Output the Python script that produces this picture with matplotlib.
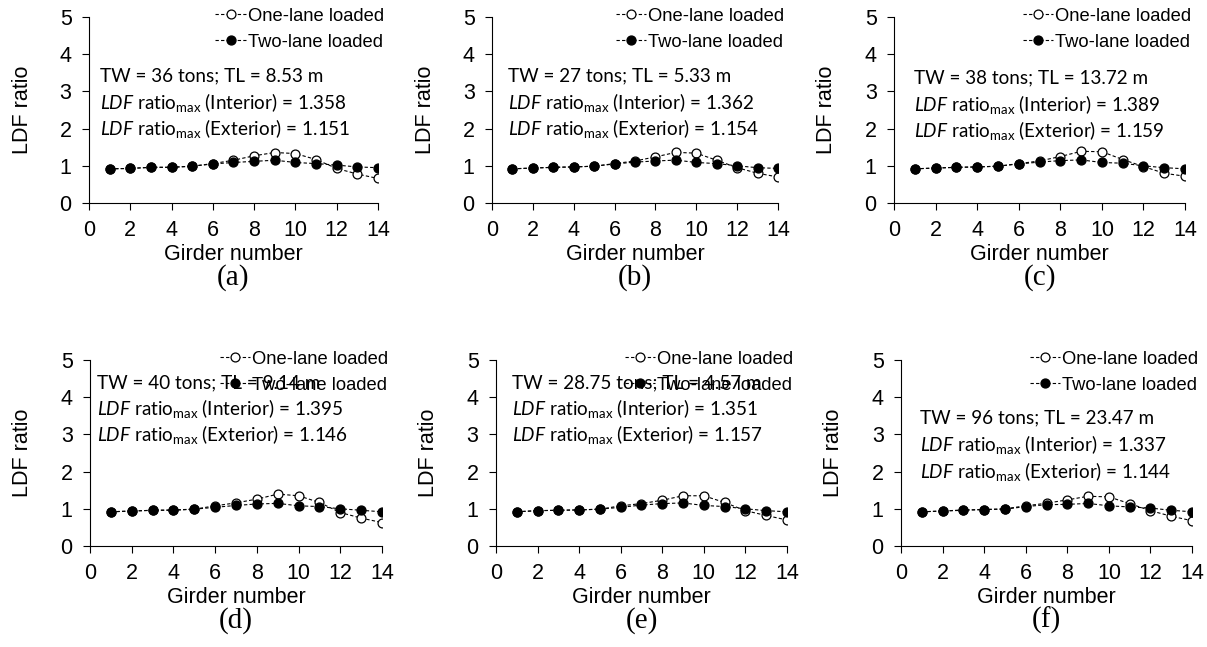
import numpy as np
import matplotlib
matplotlib.use('Agg')
import matplotlib.pyplot as plt

plt.rcParams['font.family'] = ['Liberation Sans', 'DejaVu Sans']
plt.rcParams['mathtext.fontset'] = 'custom'
plt.rcParams['mathtext.rm'] = 'Lato'
plt.rcParams['mathtext.it'] = 'Lato:italic'

# girder numbers and LDF ratios
girders = [1, 2, 3, 4, 5, 6, 7, 8, 9, 10, 11, 12, 13, 14]

one_a = [0.92, 0.93, 0.96, 0.96, 0.99, 1.06, 1.15, 1.27, 1.358, 1.33, 1.17, 0.93, 0.78, 0.66]
two_a = [0.92, 0.93, 0.96, 0.96, 0.99, 1.05, 1.09, 1.12, 1.151, 1.09, 1.06, 1.02, 0.97, 0.95]
one_b = [0.92, 0.94, 0.96, 0.97, 0.99, 1.06, 1.13, 1.24, 1.362, 1.34, 1.15, 0.95, 0.80, 0.70]
two_b = [0.92, 0.94, 0.96, 0.97, 0.99, 1.05, 1.10, 1.13, 1.154, 1.09, 1.06, 1.00, 0.95, 0.93]
one_c = [0.92, 0.94, 0.96, 0.97, 0.99, 1.06, 1.13, 1.25, 1.389, 1.38, 1.17, 0.98, 0.80, 0.72]
two_c = [0.92, 0.94, 0.96, 0.97, 0.99, 1.05, 1.10, 1.14, 1.159, 1.09, 1.07, 1.00, 0.95, 0.92]
one_d = [0.92, 0.94, 0.96, 0.97, 0.99, 1.08, 1.16, 1.26, 1.395, 1.35, 1.17, 0.90, 0.75, 0.63]
two_d = [0.92, 0.94, 0.96, 0.96, 0.99, 1.04, 1.09, 1.13, 1.146, 1.08, 1.06, 1.00, 0.96, 0.92]
one_e = [0.92, 0.95, 0.96, 0.97, 0.99, 1.08, 1.14, 1.23, 1.351, 1.35, 1.17, 0.95, 0.82, 0.70]
two_e = [0.92, 0.95, 0.96, 0.97, 0.99, 1.04, 1.10, 1.14, 1.157, 1.09, 1.06, 1.00, 0.95, 0.92]
one_f = [0.92, 0.94, 0.97, 0.98, 1.00, 1.08, 1.15, 1.24, 1.337, 1.32, 1.14, 0.95, 0.80, 0.68]
two_f = [0.92, 0.94, 0.96, 0.98, 0.99, 1.06, 1.11, 1.12, 1.144, 1.08, 1.05, 1.02, 0.96, 0.92]

panel_tags = ['(a)', '(b)', '(c)', '(d)', '(e)', '(f)']
tw_tl = ['TW = 36 tons; TL = 8.53 m', 'TW = 27 tons; TL = 5.33 m',
         'TW = 38 tons; TL = 13.72 m', 'TW = 40 tons; TL = 9.14 m',
         'TW = 28.75 tons; TL = 4.57 m', 'TW = 96 tons; TL = 23.47 m']
ratio_int = ['1.358', '1.362', '1.389', '1.395', '1.351', '1.337']
ratio_ext = ['1.151', '1.154', '1.159', '1.146', '1.157', '1.144']
one_lane = [one_a, one_b, one_c, one_d, one_e, one_f]
two_lane = [two_a, two_b, two_c, two_d, two_e, two_f]

# axes boxes in figure fraction
boxes = [[0.0737, 0.6862, 0.2394, 0.2875],
         [0.4076, 0.6862, 0.2370, 0.2875],
         [0.7407, 0.6862, 0.2411, 0.2875],
         [0.0746, 0.1561, 0.2419, 0.2875],
         [0.4109, 0.1561, 0.2411, 0.2875],
         [0.7465, 0.1561, 0.2411, 0.2875]]
# annotation placement (x offset, y of three lines) in axes fraction
note_x = [0.038, 0.055, 0.069, 0.024, 0.055, 0.066]
note_y = [(0.683, 0.538, 0.398), (0.683, 0.538, 0.398), (0.675, 0.530, 0.390),
          (0.876, 0.737, 0.602), (0.876, 0.737, 0.602), (0.688, 0.548, 0.403)]

fig = plt.figure(figsize=(12.07, 6.47), dpi=100)

for i in range(6):
    ax = fig.add_axes(boxes[i])
    ax.plot(girders, one_lane[i], color='black', lw=0.8, dashes=(3, 2),
            marker='o', ms=6.4, mfc='white', mec='black', mew=0.9,
            label='One-lane loaded')
    ax.plot(girders, two_lane[i], color='black', lw=0.8, dashes=(3, 2),
            marker='o', ms=6.4, mfc='black', mec='black',
            label='Two-lane loaded')
    ax.set_xlim(0, 14)
    ax.set_ylim(0, 5)
    ax.set_xticks(range(0, 15, 2))
    ax.set_yticks(range(0, 6))
    ax.spines['top'].set_visible(False)
    ax.spines['right'].set_visible(False)
    ax.spines['left'].set_linewidth(0.8)
    ax.spines['bottom'].set_linewidth(0.8)
    ax.tick_params(direction='out', length=5, width=0.8, labelsize=15.5, pad=7.5)
    ax.set_xlabel('Girder number', fontsize=15.5)
    ax.set_ylabel('LDF ratio', fontsize=15.5)
    ax.xaxis.set_label_coords(0.5, -0.222)
    ax.yaxis.set_label_coords(-0.195, 0.5)
    ax.legend(loc='upper right', bbox_to_anchor=(1.02, 1.05), frameon=False,
              fontsize=13.2, handlelength=1.65, handletextpad=0.1,
              labelspacing=0.5, borderpad=0, borderaxespad=0)
    lines = [tw_tl[i],
             r'$\mathit{LDF}$ ratio$_{\mathrm{max}}$ (Interior) = ' + ratio_int[i],
             r'$\mathit{LDF}$ ratio$_{\mathrm{max}}$ (Exterior) = ' + ratio_ext[i]]
    for txt, yy in zip(lines, note_y[i]):
        ax.text(note_x[i], yy, txt, transform=ax.transAxes, fontsize=13.6,
                family='Lato', va='center', ha='left')
    ax.text(0.5, -0.40, panel_tags[i], transform=ax.transAxes, fontsize=21,
            family='Liberation Serif', ha='center', va='center')

plt.savefig('out.png', dpi=100)
